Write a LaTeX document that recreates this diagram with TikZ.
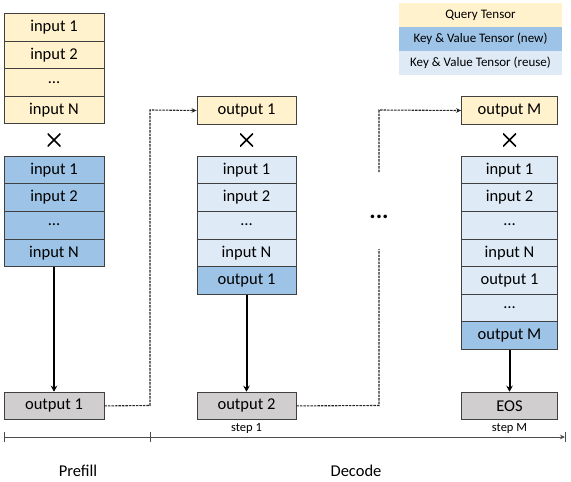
\documentclass[tikz,border=0pt]{standalone}
\usepackage{fontspec}
\setmainfont{Carlito}
\usetikzlibrary{arrows.meta}
\definecolor{qcol}{HTML}{FFF2CC}
\definecolor{kvnew}{HTML}{9DC3E6}
\definecolor{kvold}{HTML}{DEEBF7}
\definecolor{outcol}{HTML}{D0CECE}
\definecolor{bordercol}{HTML}{404040}
\tikzset{
  cell/.style={draw=bordercol, line width=0.8pt, minimum height=27.6pt, inner sep=0pt, anchor=north, font=\fontsize{16.5}{18}\selectfont},
  colL/.style={minimum width=100pt},
  colM/.style={minimum width=99pt},
  colR/.style={minimum width=96pt},
  qcell/.style={cell, fill=qcol},
  ncell/.style={cell, fill=kvnew},
  ocell/.style={cell, fill=kvold},
  gcell/.style={cell, fill=outcol},
  legcell/.style={fill=#1, minimum width=163pt, minimum height=24pt, inner sep=0pt, anchor=north, font=\fontsize{13}{15}\selectfont},
  crossmark/.style={minimum size=13pt, inner sep=0pt, path picture={\draw[line width=1.6pt] (path picture bounding box.south west)--(path picture bounding box.north east) (path picture bounding box.north west)--(path picture bounding box.south east);}},
  flow/.style={-{Stealth[length=6pt,width=6.5pt]}, line width=2pt},
  dashlink/.style={dash pattern=on 2.5pt off 1pt, line width=1.1pt, draw=black!85},
  dashtip/.style={dashlink, -{Stealth[length=5pt,width=4.5pt]}},
  axis/.style={line width=0.7pt, draw=black!70},
  smalllabel/.style={font=\fontsize{12.5}{14}\selectfont},
  biglabel/.style={font=\fontsize{16.5}{18}\selectfont}
}
\begin{document}
\begin{tikzpicture}[x=1pt,y=-1pt]
\useasboundingbox (0,0) rectangle (571,482);
% legend
\node[legcell=qcol] (lq) at (480.5,3) {Query Tensor};
\node[legcell=kvnew] (ln) at (480.5,27) {Key \& Value Tensor (new)};
\node[legcell=kvold] (lo) at (480.5,51) {Key \& Value Tensor (reuse)};
% left column (prefill)
\node[qcell,colL] (q1) at (54,13) {input 1};
\node[qcell,colL] (q2) at (54,40.6) {input 2};
\node[qcell,colL] (q3) at (54,68.2) {…};
\node[qcell,colL] (q4) at (54,95.8) {input N};
\node[crossmark] (x1) at (54,140) {};
\node[ncell,colL] (a1) at (54,155.7) {input 1};
\node[ncell,colL] (a2) at (54,183.3) {input 2};
\node[ncell,colL] (a3) at (54,210.9) {…};
\node[ncell,colL] (a4) at (54,238.5) {input N};
\node[gcell,colL] (o1) at (54,391.7) {output 1};
% middle column
\node[qcell,colM] (mq) at (246.5,96.3) {output 1};
\node[crossmark] (x2) at (246.5,140) {};
\node[ocell,colM] (b1) at (246.5,155.7) {input 1};
\node[ocell,colM] (b2) at (246.5,183.3) {input 2};
\node[ocell,colM] (b3) at (246.5,210.9) {…};
\node[ocell,colM] (b4) at (246.5,238.5) {input N};
\node[ncell,colM] (b5) at (246.5,266.1) {output 1};
\node[gcell,colM] (o2) at (246.5,391.7) {output 2};
% right column
\node[qcell,colR] (rq) at (509.5,96.3) {output M};
\node[crossmark] (x3) at (509.5,140) {};
\node[ocell,colR] (c1) at (509.5,155.7) {input 1};
\node[ocell,colR] (c2) at (509.5,183.3) {input 2};
\node[ocell,colR] (c3) at (509.5,210.9) {…};
\node[ocell,colR] (c4) at (509.5,238.5) {input N};
\node[ocell,colR] (c5) at (509.5,266.1) {output 1};
\node[ocell,colR] (c6) at (509.5,293.7) {…};
\node[ncell,colR] (c7) at (509.5,321.3) {output M};
\node[gcell,colR] (o3) at (509.5,391.7) {EOS};
% flows
\draw[flow] (a4.south) -- (o1.north);
\draw[flow] (b5.south) -- (o2.north);
\draw[flow] (c7.south) -- (o3.north);
% dashed links
\coordinate (d1) at (150,405.5);
\coordinate (d2) at (150,110);
\draw[dashtip] (o1.east) -- (d1) -- (d2) -- (mq.west);
\coordinate (e1) at (379,405.5);
\coordinate (e2) at (379,249);
\coordinate (e3) at (379,172);
\coordinate (e4) at (379,110);
\draw[dashlink] (o2.east) -- (e1) -- (e2);
\draw[dashtip] (e3) -- (e4) -- (rq.west);
\node[font=\bfseries\fontsize{24}{24}\selectfont, inner sep=0pt] (dots) at (379,216.5) {...};
% axis
\coordinate (t0) at (4,437);
\coordinate (t1) at (150,437);
\coordinate (t2) at (565,437);
\draw[axis, -{Stealth[length=5pt,width=4.5pt]}] (t0) -- (t2);
\draw[axis] (4,432) -- (4,442);
\draw[axis] (150,432) -- (150,442);
\draw[axis] (565,432) -- (565,442);
\node[smalllabel] (s1) at (246.5,428.5) {step 1};
\node[smalllabel] (sm) at (509.5,428.5) {step M};
\node[biglabel] (pre) at (78,471) {Prefill};
\node[biglabel] (dec) at (356,471) {Decode};
\end{tikzpicture}
\end{document}
